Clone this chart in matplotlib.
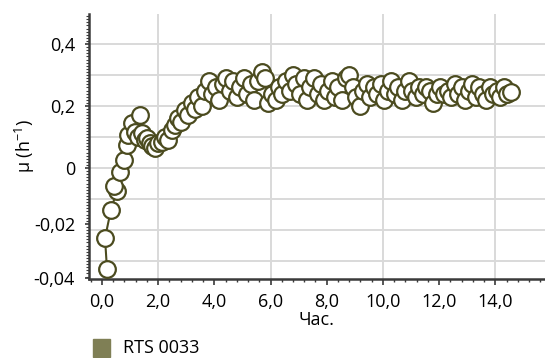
import matplotlib
matplotlib.use("Agg")
import matplotlib.pyplot as plt
from matplotlib.ticker import MultipleLocator, FixedLocator
from matplotlib.patches import Rectangle

plt.rcParams['font.family'] = ['Open Sans', 'DejaVu Sans']
plt.rcParams['mathtext.fontset'] = 'custom'
plt.rcParams['mathtext.rm'] = 'Open Sans'

# growth rate, RTS 0033
times = [0.18, 0.11, 0.32, 0.53, 0.43, 0.64, 0.78, 0.89, 0.93, 1.07,
         1.35, 1.17, 1.30, 1.42, 1.52, 1.60, 1.71, 1.80, 1.89, 2.00,
         2.14, 2.25, 2.35, 2.49, 2.60, 2.70, 2.82, 2.95, 3.08, 3.20,
         3.32, 3.42, 3.55, 3.68, 3.80, 3.92, 4.05, 4.18, 4.30, 4.42,
         4.55, 4.68, 4.80, 4.92, 5.05, 5.18, 5.30, 5.42, 5.55, 5.68,
         5.80, 5.92, 6.05, 6.18, 6.30, 6.42, 6.55, 6.68, 6.80, 6.92,
         7.05, 7.18, 7.30, 7.42, 7.55, 7.68, 7.80, 7.92, 8.05, 8.18,
         8.30, 8.42, 8.55, 8.68, 8.80, 8.92, 9.05, 9.18, 9.30, 9.42,
         9.55, 9.68, 9.80, 9.92, 10.05, 10.18, 10.30, 10.42, 10.55, 10.68,
         10.80, 10.92, 11.05, 11.18, 11.30, 11.42, 11.55, 11.68, 11.80, 11.92,
         12.05, 12.18, 12.30, 12.42, 12.55, 12.68, 12.80, 12.92, 13.05, 13.18,
         13.30, 13.42, 13.55, 13.68, 13.80, 13.92, 14.05, 14.18, 14.30, 14.42,
         14.55]
mu = [-0.326, -0.226, -0.135, -0.074, -0.058, -0.013, 0.026, 0.074, 0.106, 0.145,
      0.170, 0.116, 0.100, 0.113, 0.090, 0.097, 0.081, 0.070, 0.065, 0.080,
      0.084, 0.100, 0.090, 0.123, 0.140, 0.160, 0.150, 0.187, 0.170, 0.210,
      0.190, 0.230, 0.200, 0.250, 0.280, 0.240, 0.260, 0.220, 0.270, 0.290,
      0.250, 0.280, 0.230, 0.260, 0.290, 0.240, 0.270, 0.220, 0.280, 0.310,
      0.290, 0.210, 0.240, 0.220, 0.260, 0.240, 0.280, 0.250, 0.300, 0.270,
      0.240, 0.290, 0.220, 0.260, 0.290, 0.240, 0.270, 0.220, 0.250, 0.280,
      0.230, 0.260, 0.220, 0.290, 0.300, 0.260, 0.230, 0.200, 0.250, 0.270,
      0.230, 0.260, 0.240, 0.270, 0.220, 0.250, 0.280, 0.240, 0.260, 0.220,
      0.250, 0.280, 0.250, 0.230, 0.260, 0.240, 0.260, 0.250, 0.210, 0.240,
      0.260, 0.240, 0.250, 0.230, 0.270, 0.240, 0.260, 0.220, 0.250, 0.270,
      0.230, 0.260, 0.240, 0.220, 0.260, 0.240, 0.250, 0.230, 0.260, 0.240,
      0.245]

x_ticks = [0, 2, 4, 6, 8, 10, 12, 14]
x_labels = ["0,0", "2,0", "4,0", "6,0", "8,0", "10,0", "12,0", "14,0"]
y_ticks = [0.4, 0.2, 0.0, -0.18, -0.355]
y_labels = ["0,4", "0,2", "0", "-0,02", "-0,04"]
series_name = "RTS 0033"

line_col = "#4b4b1f"
axis_col = "#3a3a3a"

fig = plt.figure(figsize=(5.45, 3.58), dpi=100)
ax = fig.add_axes([89/545, 1 - 279/358, 456/545, 265/358])

ax.plot(times, mu, color=line_col, lw=1.5, marker='o', ms=12,
        mfc='white', mec=line_col, mew=1.6, zorder=3)

ax.set_xlim(-0.46, 15.77)
ax.set_ylim(-0.358, 0.497)

for v in [-0.3, -0.2, -0.1, 0.0, 0.1, 0.2, 0.3, 0.4]:
    ax.axhline(v, color="#d9d9d9", lw=1.4, zorder=1)
for v in [2, 6, 10, 14]:
    ax.axvline(v, color="#d9d9d9", lw=1.4, zorder=1)

ax.set_xticks(x_ticks)
ax.set_xticklabels(x_labels)
ax.xaxis.set_minor_locator(MultipleLocator(0.4))
ax.yaxis.set_major_locator(FixedLocator(y_ticks))
ax.set_yticklabels(y_labels)
ax.yaxis.set_minor_locator(MultipleLocator(0.01))

ax.tick_params(axis='x', which='major', length=4, width=1.2, color=axis_col,
               labelsize=13, pad=6)
ax.tick_params(axis='x', which='minor', length=2.5, width=1, color=axis_col)
ax.tick_params(axis='y', which='major', length=3, width=1.2, color=axis_col,
               labelsize=13, pad=7)
ax.tick_params(axis='y', which='minor', length=2.2, width=0.8, color=axis_col)

for s in ['top', 'right']:
    ax.spines[s].set_visible(False)
for s in ['left', 'bottom']:
    ax.spines[s].set_color(axis_col)
    ax.spines[s].set_linewidth(1.8)

ax.set_xlabel("Час.", fontsize=13, labelpad=0)
ax.set_ylabel(r"μ (h$^{\mathregular{-1}}$)", fontsize=13)
ax.yaxis.set_label_coords(-0.115, 0.5)

fig.add_artist(Rectangle((93/545, 1 - 357/358), 17/545, 18/358,
                         transform=fig.transFigure, color="#7f7f55"))
fig.text(123/545, 1 - 348/358, series_name, fontsize=13, va='center', ha='left')

fig.savefig("out.png", dpi=100)
